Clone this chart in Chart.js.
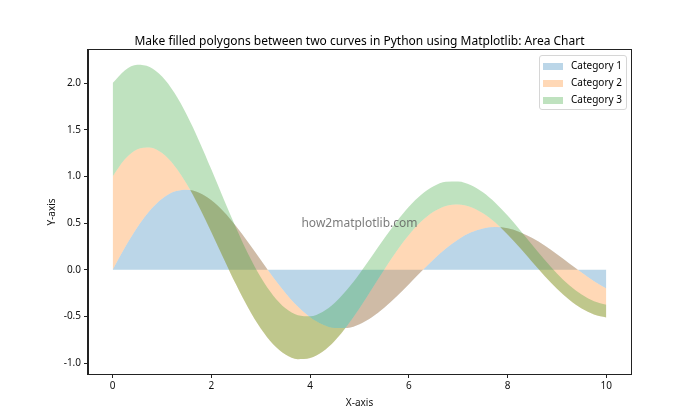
<!DOCTYPE html>
<html lang="en">
<head>
    <meta charset="UTF-8">
    <title>Area Chart</title>
    <script src="https://cdn.jsdelivr.net/npm/chart.js"></script>
    <style>
        body { margin: 0; background: #fff; }
        #wrap { position: relative; width: 700px; height: 420px; }
        #legend {
            position: absolute; left: 539px; top: 55px; width: 86px; height: 52px;
            border: 1px solid #d6d6d6; border-radius: 3px; background: rgba(255,255,255,0.8);
            font-family: "Noto Sans", sans-serif; font-size: 10px; color: #000;
            padding-top: 1px; box-sizing: content-box;
        }
        #legend div { height: 17px; line-height: 17px; white-space: nowrap; }
        #legend span.sw { display: inline-block; width: 20px; height: 7px; margin: 0 8px 0 3px; vertical-align: -0.5px; }
    </style>
</head>
<body>
<div id="wrap">
    <canvas id="areaChart" width="700" height="420"></canvas>
    <div id="legend"></div>
</div>

<script>
// x positions (0 .. 10, step 0.25)
const xValues = [0, 0.25, 0.5, 0.75, 1, 1.25, 1.5, 1.75, 2, 2.25, 2.5, 2.75, 3, 3.25, 3.5, 3.75, 4, 4.25, 4.5, 4.75,
    5, 5.25, 5.5, 5.75, 6, 6.25, 6.5, 6.75, 7, 7.25, 7.5, 7.75, 8, 8.25, 8.5, 8.75, 9, 9.25, 9.5, 9.75, 10];

// curve 1 (bottom of Category 2, top of Category 1)
const curve1 = [0, 0.241, 0.456, 0.632, 0.761, 0.838, 0.859, 0.826, 0.744, 0.621, 0.466, 0.290, 0.105, -0.078, -0.247, -0.393, -0.507, -0.585, -0.623, -0.622,
    -0.582, -0.508, -0.407, -0.286, -0.153, -0.018, 0.112, 0.229, 0.326, 0.399, 0.443, 0.458, 0.445, 0.404, 0.341, 0.260, 0.168, 0.069, -0.029, -0.121, -0.200];

// curve 2 (top of Category 2, bottom of Category 3)
const curve2 = [1.000, 1.186, 1.291, 1.311, 1.250, 1.116, 0.919, 0.677, 0.404, 0.120, -0.158, -0.412, -0.629, -0.796, -0.907, -0.957, -0.945, -0.877, -0.758, -0.598,
    -0.410, -0.205, 0.002, 0.199, 0.374, 0.517, 0.622, 0.684, 0.701, 0.674, 0.607, 0.506, 0.379, 0.236, 0.084, -0.066, -0.203, -0.321, -0.415, -0.478, -0.509];

// curve 3 (top of Category 3)
const curve3 = [2.000, 2.138, 2.196, 2.172, 2.069, 1.895, 1.660, 1.381, 1.074, 0.757, 0.449, 0.165, -0.080, -0.274, -0.411, -0.485, -0.496, -0.450, -0.351, -0.211,
    -0.042, 0.145, 0.335, 0.515, 0.675, 0.804, 0.895, 0.943, 0.947, 0.908, 0.830, 0.718, 0.581, 0.428, 0.267, 0.108, -0.038, -0.164, -0.265, -0.336, -0.374];

const categories = ['Category 1', 'Category 2', 'Category 3'];
const fillColors = ['rgba(31,119,180,0.3)', 'rgba(255,127,14,0.3)', 'rgba(44,160,44,0.3)'];

const xTicks = [0, 2, 4, 6, 8, 10];
const yTicks = [-1.0, -0.5, 0.0, 0.5, 1.0, 1.5, 2.0];

const chartTitle = 'Make filled polygons between two curves in Python using Matplotlib: Area Chart';
const FONT = '"Noto Sans", sans-serif';

function toPoints(arr) {
    return xValues.map((x, i) => ({ x: x, y: arr[i] }));
}

// title over the plot, frame on all four sides, watermark
const framePlugin = {
    id: 'frame',
    afterDatasetsDraw(chart) {
        const ctx = chart.ctx;
        const xs = chart.scales.x, ys = chart.scales.y;
        ctx.save();
        ctx.font = '12px ' + FONT;
        ctx.fillStyle = 'rgba(90,90,90,0.8)';
        ctx.textAlign = 'center';
        ctx.textBaseline = 'middle';
        ctx.fillText('how2matplotlib.com', xs.getPixelForValue(5), ys.getPixelForValue(0.5));
        ctx.restore();
    },
    afterDraw(chart) {
        const a = chart.chartArea;
        const ctx = chart.ctx;
        ctx.save();
        ctx.strokeStyle = '#222';
        ctx.lineWidth = 1;
        ctx.strokeRect(Math.round(a.left) - 0.5, Math.round(a.top) - 0.5, Math.round(a.right - a.left) + 1, Math.round(a.bottom - a.top) + 1);
        ctx.font = '12px ' + FONT;
        ctx.fillStyle = '#000';
        ctx.textAlign = 'center';
        ctx.textBaseline = 'alphabetic';
        ctx.fillText(chartTitle, (a.left + a.right) / 2, a.top - 5);
        ctx.restore();
    }
};

const whiteBg = {
    id: 'whiteBg',
    beforeDraw(chart) {
        const ctx = chart.ctx;
        ctx.save();
        ctx.fillStyle = '#fff';
        ctx.fillRect(0, 0, chart.width, chart.height);
        ctx.restore();
    }
};

new Chart(document.getElementById('areaChart'), {
    type: 'line',
    data: {
        datasets: [
            { label: categories[0], data: toPoints(curve1), fill: 'origin', order: 3,
              backgroundColor: fillColors[0], borderWidth: 0, pointRadius: 0, cubicInterpolationMode: 'monotone' },
            { label: categories[1], data: toPoints(curve2), fill: 0, order: 2,
              backgroundColor: fillColors[1], borderWidth: 0, pointRadius: 0, cubicInterpolationMode: 'monotone' },
            { label: categories[2], data: toPoints(curve3), fill: 1, order: 1,
              backgroundColor: fillColors[2], borderWidth: 0, pointRadius: 0, cubicInterpolationMode: 'monotone' }
        ]
    },
    options: {
        responsive: false,
        animation: false,
        layout: { padding: { left: 46, right: 69, top: 50, bottom: 0 } },
        scales: {
            x: {
                type: 'linear', min: -0.5, max: 10.5,
                afterFit(s) { s.height = 46; },
                afterBuildTicks(s) { s.ticks = xTicks.map(v => ({ value: v })); },
                grid: { drawOnChartArea: false, drawTicks: true, tickLength: 4, color: '#222' },
                border: { color: '#222' },
                ticks: { padding: 2, color: '#111', font: { family: FONT, size: 10 }, maxRotation: 0,
                         callback: v => String(v) },
                title: { display: true, text: 'X-axis', color: '#111', font: { family: FONT, size: 10 },
                         padding: { top: 0, bottom: 11 } }
            },
            y: {
                min: -1.115, max: 2.354,
                afterFit(s) { s.width = 42; },
                afterBuildTicks(s) { s.ticks = yTicks.map(v => ({ value: v })); },
                grid: { drawOnChartArea: false, drawTicks: true, tickLength: 4, color: '#222' },
                border: { color: '#222' },
                ticks: { padding: 3, color: '#111', font: { family: FONT, size: 10 },
                         callback: v => v.toFixed(1) },
                title: { display: true, text: 'Y-axis', color: '#111', font: { family: FONT, size: 10 },
                         padding: { top: 0, bottom: 0 } }
            }
        },
        plugins: {
            legend: { display: false },
            tooltip: { enabled: false },
            title: { display: false }
        }
    },
    plugins: [whiteBg, framePlugin]
});

// legend box (top right inside the plot)
const legendEl = document.getElementById('legend');
legendEl.innerHTML = categories.map((c, i) =>
    `<div><span class="sw" style="background:${fillColors[i]}"></span>${c}</div>`).join('');
</script>
</body>
</html>
